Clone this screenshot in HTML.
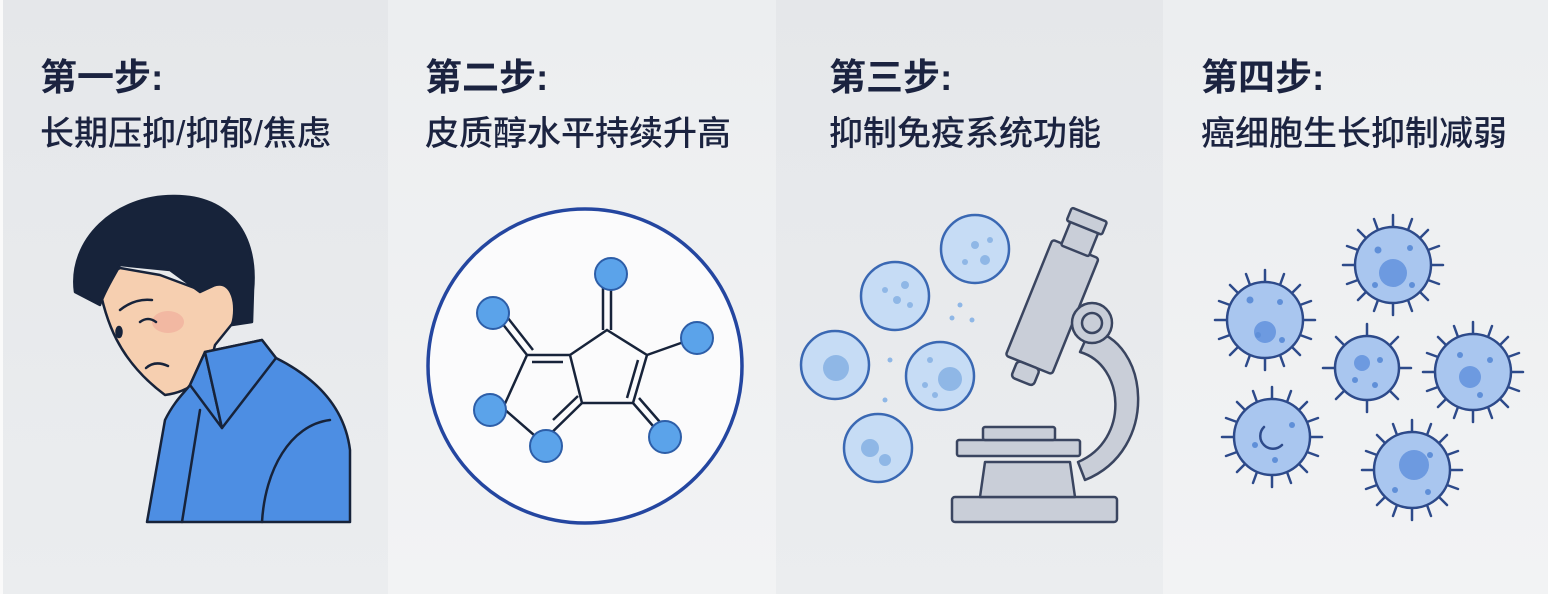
<!DOCTYPE html>
<html><head><meta charset="utf-8"><style>
html,body{margin:0;padding:0;width:1548px;height:594px;overflow:hidden;background:#eceef1}
svg{display:block}
text{font-family:"Liberation Sans","Noto Sans CJK SC",sans-serif;fill:#1b2340}
</style></head><body>
<svg width="1548" height="594" viewBox="0 0 1548 594" xmlns="http://www.w3.org/2000/svg">
<defs>
<linearGradient id="g1" x1="0" y1="0" x2="0" y2="1"><stop offset="0" stop-color="#e5e7ea"/><stop offset="1" stop-color="#ebedef"/></linearGradient>
<linearGradient id="g2" x1="0" y1="0" x2="0" y2="1"><stop offset="0" stop-color="#eceef0"/><stop offset="1" stop-color="#f2f3f4"/></linearGradient>
</defs>
<rect x="0" y="0" width="388" height="594" fill="url(#g1)"/>
<rect x="388" y="0" width="388" height="594" fill="url(#g2)"/>
<rect x="776" y="0" width="387" height="594" fill="url(#g1)"/>
<rect x="1163" y="0" width="385" height="594" fill="url(#g2)"/>
<rect x="0" y="0" width="3" height="594" fill="#fafafa"/>

<!-- titles -->
<g font-size="37" font-weight="bold">
<text x="40" y="90">第一步:</text>
<text x="425" y="90">第二步:</text>
<text x="829" y="90">第三步:</text>
<text x="1201" y="90">第四步:</text>
</g>
<g font-size="34" font-weight="500">
<text x="40" y="145">长期压抑/抑郁/焦虑</text>
<text x="425" y="145">皮质醇水平持续升高</text>
<text x="829" y="145">抑制免疫系统功能</text>
<text x="1201" y="145">癌细胞生长抑制减弱</text>
</g>

<!-- panel 1 person -->
<g stroke="#17233a" stroke-width="2.5" stroke-linejoin="round" stroke-linecap="round">
<path d="M98,280 C105,320 118,360 165,395 C188,392 202,380 210,365 L215,345 L232,324 C242,305 236,280 215,285 L200,290 L160,275 L120,268 Z" fill="#f6cfb0"/>
<ellipse cx="168" cy="322" rx="16" ry="11" fill="#f0a89a" stroke="none" opacity="0.6"/>
<path d="M147,522 L165,420 C175,400 185,392 190,385 L205,352 L262,340 L276,358 C320,380 345,410 350,450 L350,522 Z" fill="#4d8ee3"/>
<path d="M190,385 L205,352 L222,428 Z" fill="#4d8ee3"/>
<path d="M205,352 L262,340 L276,358 L222,428 Z" fill="#4d8ee3"/>
<path d="M200,410 L182,522" fill="none"/>
<path d="M330,420 C290,425 265,470 262,522" fill="none"/>
<path d="M75,292 C68,240 115,195 175,196 C230,196 258,235 253,290 L252,322 L232,325 C238,305 232,280 215,285 L200,292 L170,270 L120,265 C115,275 105,290 100,305 Z" fill="#17233a"/>
<path d="M120,310 Q135,298 152,300" fill="none"/>
<path d="M140,322 Q148,316 156,322" fill="none"/>
<ellipse cx="119" cy="332" rx="2.5" ry="5" fill="#17233a"/>
<path d="M146,368 Q155,360 168,366" fill="none"/>
</g>

<!-- panel 2 molecule -->
<circle cx="585" cy="366" r="157" fill="#fbfbfc" stroke="#2446a0" stroke-width="3.5"/>
<g stroke="#17233a" stroke-width="2.5" fill="none">
<path d="M607,330 L647,355 L633,403 L582,403 L570,355 Z"/>
<path d="M570,355 L527,355 L503,408"/>
<path d="M503,408 L542,442 L582,403"/>
<path d="M532,362 L563,362"/>
<path d="M638,360 L627,398"/>
<path d="M578,396 L553,420"/>
<path d="M603,330 L603,278 M611,330 L611,278"/>
<path d="M527,355 L498,318 M533,350 L504,313"/>
<path d="M647,355 L695,338"/>
<path d="M633,403 L660,434 M639,398 L666,429"/>
</g>
<g fill="#5ba3ea" stroke="#2d5ea8" stroke-width="2">
<circle cx="611" cy="274" r="16"/>
<circle cx="493" cy="313" r="16"/>
<circle cx="697" cy="338" r="16"/>
<circle cx="490" cy="410" r="16"/>
<circle cx="546" cy="446" r="16"/>
<circle cx="665" cy="437" r="16"/>
</g>

<!-- panel 3 cells -->
<g fill="#c6dcf5" stroke="#3a68b3" stroke-width="2.5">
<circle cx="975" cy="249" r="34"/>
<circle cx="895" cy="296" r="34"/>
<circle cx="835" cy="365" r="34"/>
<circle cx="940" cy="376" r="34"/>
<circle cx="878" cy="448" r="34"/>
</g>
<g fill="#8fb7e6">
<circle cx="836" cy="368" r="13"/><circle cx="950" cy="379" r="12"/><circle cx="870" cy="448" r="9"/><circle cx="885" cy="460" r="6"/>
<circle cx="975" cy="245" r="4"/><circle cx="985" cy="260" r="5"/><circle cx="965" cy="262" r="3"/><circle cx="990" cy="240" r="3"/>
<circle cx="897" cy="300" r="4"/><circle cx="910" cy="305" r="3"/><circle cx="885" cy="290" r="3"/><circle cx="905" cy="285" r="4"/>
<circle cx="930" cy="360" r="3"/><circle cx="925" cy="385" r="3"/><circle cx="935" cy="395" r="3"/>
<circle cx="960" cy="305" r="2.5"/><circle cx="952" cy="318" r="2.5"/><circle cx="972" cy="320" r="2.5"/><circle cx="890" cy="360" r="2.5"/><circle cx="885" cy="400" r="2.5"/>
</g>
<!-- microscope -->
<g stroke="#3a4560" stroke-width="2.5" stroke-linejoin="round" fill="#c9ced8">
<path d="M1090,330 C1150,340 1160,450 1085,480 L1078,462 C1130,440 1125,365 1080,352 Z"/>
<rect x="952" y="497" width="165" height="25" rx="3"/>
<path d="M980,497 L985,462 L1070,462 L1075,497 Z"/>
<rect x="957" y="440" width="123" height="16" rx="2"/>
<rect x="983" y="427" width="72" height="13" rx="2"/>
<g transform="rotate(22 1055 300)">
<rect x="1030" y="245" width="50" height="125" rx="3"/>
<rect x="1040" y="220" width="30" height="27" rx="2"/>
<rect x="1036" y="208" width="38" height="14" rx="2"/>
<rect x="1043" y="370" width="24" height="18" rx="4"/>
</g>
<circle cx="1092" cy="323" r="20"/>
<circle cx="1092" cy="323" r="10"/>
</g>

<!-- panel 4 viruses -->
<g stroke="#2d4a8a" stroke-width="2.5" stroke-linecap="round">
<g transform="translate(1265,320)"><path d="M0,-38V-50M27,-27L35,-35M38,0H50M27,27L35,35M0,38V50M-27,27L-35,35M-38,0H-50M-27,-27L-35,-35M15,-35L19,-46M-15,-35L-19,-46M35,15L46,19M-35,15L-46,19M15,35L19,46M-15,35L-19,46M35,-15L46,-19M-35,-15L-46,-19"/><circle r="38" fill="#a9c6ef"/><circle cx="0" cy="12" r="11" fill="#6d9ae0" stroke="none"/></g>
<g transform="translate(1393,265)"><path d="M0,-38V-50M27,-27L35,-35M38,0H50M27,27L35,35M0,38V50M-27,27L-35,35M-38,0H-50M-27,-27L-35,-35M15,-35L19,-46M-15,-35L-19,-46M35,15L46,19M-35,15L-46,19M15,35L19,46M-15,35L-19,46M35,-15L46,-19M-35,-15L-46,-19"/><circle r="38" fill="#a9c6ef"/><circle cx="0" cy="8" r="14" fill="#6d9ae0" stroke="none"/></g>
<g transform="translate(1367,368)"><path d="M0,-32V-44M23,-23L31,-31M32,0H44M23,23L31,31M0,32V44M-23,23L-31,31M-32,0H-44M-23,-23L-31,-31"/><circle r="32" fill="#a9c6ef"/><circle cx="-5" cy="-5" r="8" fill="#6d9ae0" stroke="none"/></g>
<g transform="translate(1473,372)"><path d="M0,-38V-50M27,-27L35,-35M38,0H50M27,27L35,35M0,38V50M-27,27L-35,35M-38,0H-50M-27,-27L-35,-35M15,-35L19,-46M-15,-35L-19,-46M35,15L46,19M-35,15L-46,19M15,35L19,46M-15,35L-19,46M35,-15L46,-19M-35,-15L-46,-19"/><circle r="38" fill="#a9c6ef"/><circle cx="-3" cy="5" r="11" fill="#6d9ae0" stroke="none"/></g>
<g transform="translate(1272,437)"><path d="M0,-38V-50M27,-27L35,-35M38,0H50M27,27L35,35M0,38V50M-27,27L-35,35M-38,0H-50M-27,-27L-35,-35M15,-35L19,-46M-15,-35L-19,-46M35,15L46,19M-35,15L-46,19M15,35L19,46M-15,35L-19,46M35,-15L46,-19M-35,-15L-46,-19"/><circle r="38" fill="#a9c6ef"/><path d="M-8,-10 A12,12 0 1 0 10,8" fill="none"/></g>
<g transform="translate(1412,470)"><path d="M0,-38V-50M27,-27L35,-35M38,0H50M27,27L35,35M0,38V50M-27,27L-35,35M-38,0H-50M-27,-27L-35,-35M15,-35L19,-46M-15,-35L-19,-46M35,15L46,19M-35,15L-46,19M15,35L19,46M-15,35L-19,46M35,-15L46,-19M-35,-15L-46,-19"/><circle r="38" fill="#a9c6ef"/><circle cx="2" cy="-5" r="15" fill="#6d9ae0" stroke="none"/></g>
</g>
<g fill="#5f8fd8">
<circle cx="1250" cy="300" r="3.5"/><circle cx="1280" cy="302" r="3"/><circle cx="1258" cy="335" r="3"/><circle cx="1282" cy="340" r="3"/>
<circle cx="1378" cy="250" r="3.5"/><circle cx="1410" cy="248" r="3"/><circle cx="1375" cy="285" r="3"/><circle cx="1412" cy="285" r="3"/>
<circle cx="1380" cy="360" r="3"/><circle cx="1355" cy="380" r="3"/><circle cx="1375" cy="385" r="3"/>
<circle cx="1460" cy="355" r="3"/><circle cx="1490" cy="360" r="3"/><circle cx="1480" cy="395" r="3"/>
<circle cx="1255" cy="445" r="3"/><circle cx="1275" cy="460" r="3"/><circle cx="1292" cy="425" r="3"/>
<circle cx="1395" cy="490" r="3"/><circle cx="1428" cy="492" r="3"/><circle cx="1430" cy="455" r="3"/>
</g>
</svg>
</body></html>
